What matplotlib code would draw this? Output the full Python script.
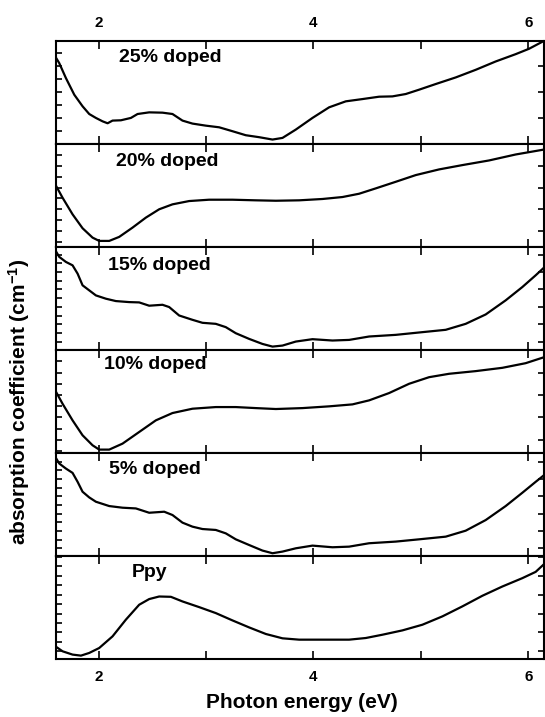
import numpy as np
import matplotlib
matplotlib.use("Agg")
import matplotlib.pyplot as plt

plt.rcParams['font.family'] = ['Liberation Sans', 'DejaVu Sans']
plt.rcParams['font.weight'] = 'bold'
plt.rcParams['mathtext.default'] = 'regular'

# absorption spectra, y in relative units (0..1 of each panel)
e25 = [1.597, 1.634, 1.696, 1.774, 1.851, 1.913, 1.975, 2.037, 2.084, 2.13, 2.208, 2.301,
       2.363, 2.471, 2.595, 2.688, 2.781, 2.874, 2.998, 3.122, 3.246, 3.370, 3.494, 3.619,
       3.712, 3.836, 3.991, 4.146, 4.301, 4.456, 4.611, 4.735, 4.859, 4.983, 5.138, 5.324,
       5.510, 5.696, 5.882, 6.006, 6.146]
a25 = [0.848, 0.784, 0.639, 0.477, 0.365, 0.290, 0.252, 0.219, 0.200, 0.226, 0.229, 0.252,
       0.290, 0.306, 0.303, 0.290, 0.226, 0.197, 0.177, 0.161, 0.123, 0.084, 0.065, 0.042,
       0.058, 0.139, 0.252, 0.355, 0.413, 0.435, 0.458, 0.461, 0.484, 0.526, 0.581, 0.645,
       0.719, 0.800, 0.871, 0.923, 1.000]

e20 = [1.597, 1.665, 1.758, 1.851, 1.944, 2.006, 2.099, 2.192, 2.316, 2.440, 2.564, 2.688,
       2.843, 3.029, 3.246, 3.464, 3.650, 3.867, 4.084, 4.270, 4.425, 4.580, 4.766, 4.952,
       5.169, 5.386, 5.634, 5.882, 6.146]
a20 = [0.606, 0.477, 0.316, 0.181, 0.090, 0.058, 0.058, 0.097, 0.187, 0.284, 0.365, 0.413,
       0.445, 0.458, 0.458, 0.452, 0.448, 0.452, 0.465, 0.484, 0.516, 0.568, 0.632, 0.697,
       0.752, 0.794, 0.839, 0.897, 0.945]

e15 = [1.597, 1.634, 1.696, 1.758, 1.805, 1.851, 1.913, 1.975, 2.068, 2.161, 2.285, 2.378,
       2.471, 2.595, 2.657, 2.750, 2.874, 2.967, 3.091, 3.184, 3.277, 3.401, 3.525, 3.619,
       3.712, 3.836, 3.991, 4.177, 4.332, 4.518, 4.766, 4.983, 5.231, 5.417, 5.603, 5.789,
       5.944, 6.068, 6.146]
a15 = [0.968, 0.903, 0.854, 0.821, 0.740, 0.627, 0.578, 0.529, 0.497, 0.474, 0.464, 0.461,
       0.429, 0.438, 0.416, 0.334, 0.292, 0.263, 0.253, 0.221, 0.162, 0.107, 0.058, 0.032,
       0.042, 0.081, 0.104, 0.091, 0.097, 0.130, 0.146, 0.169, 0.195, 0.253, 0.344, 0.481,
       0.610, 0.724, 0.799]

e10 = [1.597, 1.665, 1.758, 1.851, 1.944, 2.006, 2.099, 2.223, 2.378, 2.533, 2.688, 2.874,
       3.091, 3.277, 3.464, 3.650, 3.898, 4.146, 4.363, 4.518, 4.704, 4.890, 5.076, 5.262,
       5.510, 5.758, 5.975, 6.146]
a10 = [0.606, 0.477, 0.316, 0.171, 0.074, 0.032, 0.032, 0.090, 0.203, 0.316, 0.387, 0.429,
       0.445, 0.445, 0.435, 0.426, 0.435, 0.452, 0.471, 0.510, 0.581, 0.671, 0.735, 0.768,
       0.794, 0.826, 0.871, 0.929]

e05 = [1.597, 1.634, 1.696, 1.758, 1.805, 1.851, 1.913, 1.975, 2.099, 2.223, 2.347, 2.471,
       2.611, 2.688, 2.781, 2.874, 2.967, 3.091, 3.184, 3.277, 3.401, 3.525, 3.619, 3.712,
       3.836, 3.991, 4.177, 4.332, 4.518, 4.766, 4.983, 5.231, 5.417, 5.603, 5.789, 5.944,
       6.068, 6.146]
a05 = [0.961, 0.897, 0.848, 0.806, 0.719, 0.623, 0.568, 0.526, 0.484, 0.468, 0.461, 0.419,
       0.429, 0.397, 0.323, 0.284, 0.261, 0.252, 0.219, 0.161, 0.106, 0.052, 0.026, 0.042,
       0.074, 0.100, 0.084, 0.090, 0.123, 0.139, 0.161, 0.187, 0.245, 0.348, 0.484, 0.613,
       0.719, 0.784]

eppy = [1.597, 1.665, 1.758, 1.836, 1.913, 2.006, 2.130, 2.254, 2.378, 2.471, 2.564, 2.673,
        2.781, 2.936, 3.091, 3.246, 3.401, 3.557, 3.712, 3.867, 4.022, 4.177, 4.332, 4.487,
        4.642, 4.828, 5.014, 5.200, 5.386, 5.572, 5.758, 5.944, 6.068, 6.146]
appy = [0.123, 0.074, 0.042, 0.032, 0.058, 0.106, 0.219, 0.381, 0.526, 0.581, 0.606, 0.603,
        0.558, 0.503, 0.445, 0.374, 0.306, 0.242, 0.200, 0.187, 0.187, 0.187, 0.187, 0.203,
        0.235, 0.277, 0.332, 0.413, 0.510, 0.613, 0.703, 0.784, 0.845, 0.920]

labels = ["25% doped", "20% doped", "15% doped", "10% doped", "5% doped", "Ppy"]
energies = [e25, e20, e15, e10, e05, eppy]
spectra = [a25, a20, a15, a10, a05, appy]

# label placement (x in eV, y in panel fraction) and y tick grid per panel
label_pos = [(2.19, 0.84), (2.16, 0.83), (2.09, 0.82), (2.05, 0.86), (2.10, 0.84), (2.31, 0.84)]
ytick_first = [0.252, 0.152, 0.080, 0.126, 0.074, 0.074]
ytick_step = [0.252, 0.212, 0.169, 0.218, 0.168, 0.183]

fig, axes = plt.subplots(6, 1, sharex=True, figsize=(5.45, 7.17), dpi=100)
fig.subplots_adjust(left=0.102, right=0.999, top=0.943, bottom=0.081, hspace=0)

for i, ax in enumerate(axes):
    ax.plot(energies[i], spectra[i], color='black', lw=1.6)
    ax.set_xlim(1.6, 6.15)
    ax.set_ylim(0, 1)
    ax.text(label_pos[i][0], label_pos[i][1], labels[i], fontsize=14, fontweight='bold',
            va='center', ha='left')
    major = np.arange(ytick_first[i], 1.0, ytick_step[i])
    minor = np.arange(ytick_first[i] - ytick_step[i] / 2, 1.0, ytick_step[i])
    minor = minor[minor > 0.01]
    ax.set_yticks(major)
    ax.set_yticks(minor, minor=True)
    ax.set_xticks([2, 4, 6])
    ax.set_xticks([3, 5], minor=True)
    ax.tick_params(axis='x', which='both', direction='in', top=True, bottom=True,
                   length=6, width=1.2, labelbottom=False, labelsize=11, pad=8)
    ax.tick_params(axis='y', which='major', direction='in', left=True, right=True,
                   length=4, width=1.2, labelleft=False)
    ax.tick_params(axis='y', which='minor', direction='in', left=True, right=False,
                   length=4, width=1.2)
    for sp in ax.spines.values():
        sp.set_linewidth(1.5)

axes[0].tick_params(axis='x', labeltop=True)
axes[-1].tick_params(axis='x', labelbottom=True)

fig.text(0.554, 0.02, "Photon energy (eV)", ha='center', va='center', fontsize=15,
         fontweight='bold')
fig.text(0.035, 0.44, r"absorption coefficient (cm$^{-1}$)", rotation=90, ha='center',
         va='center', fontsize=15, fontweight='bold')

fig.savefig("out.png", dpi=100)
